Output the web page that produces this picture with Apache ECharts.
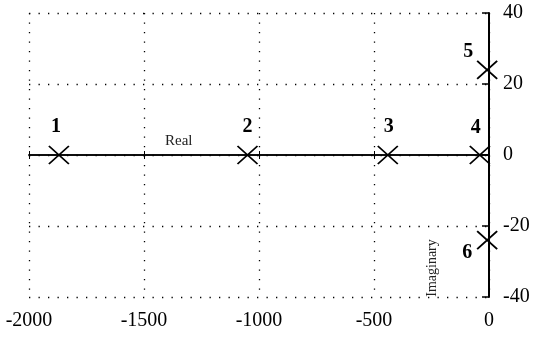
<!DOCTYPE html>
<html>
<head>
<meta charset="utf-8">
<script src="https://cdn.jsdelivr.net/npm/echarts@6/dist/echarts.min.js"></script>
<style>
html,body{margin:0;padding:0;background:#fff;}
#chart{width:544px;height:339px;}
</style>
</head>
<body>
<div id="chart"></div>
<script>
// Data
var pointNames = ['1', '2', '3', '4', '5', '6'];
var realParts = [-1870, -1050, -440, -40, -8, -8];
var imagParts = [0, 0, 0, 0, 24, -24];
var xTicks = [-2000, -1500, -1000, -500, 0];
var yTicks = [-40, -20, 0, 20, 40];
var xAxisTitle = 'Real';
var yAxisTitle = 'Imaginary';

var FONT = '"Liberation Serif", "Times New Roman", serif';
var chart = echarts.init(document.getElementById('chart'), null, {renderer: 'canvas'});

var labelOffsets = [[-3, -28], [0, -28], [1, -28], [-4, -27], [-19, -18], [-20, 13]];
var seriesData = pointNames.map(function (n, i) {
  return {
    name: n,
    value: [realParts[i], imagParts[i]],
    label: {offset: labelOffsets[i]}
  };
});

var dotted = {color: '#000', width: 1.3, type: [1.3, 8.2]};
var xMin = xTicks[0], xMax = xTicks[xTicks.length - 1];
var yMin = yTicks[0], yMax = yTicks[yTicks.length - 1];
var plain = function (v) { return String(v); };
var gridRect = {left: 29, right: 55, top: 13, bottom: 42};

var option = {
  backgroundColor: '#fff',
  animation: false,
  grid: [gridRect, gridRect],
  xAxis: [
    {
      gridIndex: 0, type: 'value', min: xMin, max: xMax, interval: 500, position: 'bottom',
      axisLine: {show: false, onZero: false}, axisTick: {show: false},
      axisLabel: {fontFamily: FONT, fontSize: 20, color: '#000', margin: 14, formatter: plain},
      splitLine: {show: true, lineStyle: dotted}
    },
    {
      gridIndex: 0, type: 'value', min: xMin, max: xMax, interval: 500, position: 'top',
      axisLine: {show: true, onZero: true, lineStyle: {color: '#000', width: 1.6}},
      axisTick: {show: true, length: 4, lineStyle: {color: '#000', width: 1}},
      axisLabel: {show: false}, splitLine: {show: false}
    },
    {
      gridIndex: 1, type: 'value', min: xMin, max: xMax, interval: 500, position: 'bottom',
      axisLine: {show: true, onZero: true, lineStyle: {color: '#000', width: 1.6}},
      axisTick: {show: true, length: 4, lineStyle: {color: '#000', width: 1}},
      axisLabel: {show: false}, splitLine: {show: false}
    }
  ],
  yAxis: [
    {
      gridIndex: 0, type: 'value', min: yMin, max: yMax, interval: 20, position: 'right',
      axisLine: {show: true, onZero: false, lineStyle: {color: '#000', width: 2}},
      axisTick: {show: true, inside: true, length: 7, lineStyle: {color: '#000', width: 1.5}},
      axisLabel: {fontFamily: FONT, fontSize: 20, color: '#000', margin: 14, formatter: plain},
      splitLine: {show: true, lineStyle: dotted}
    },
    {
      gridIndex: 1, type: 'value', min: yMin, max: yMax, interval: 20, position: 'right',
      axisLine: {show: false, onZero: false}, axisTick: {show: false},
      axisLabel: {show: false}, splitLine: {show: false}
    }
  ],
  graphic: [
    {
      type: 'text', left: 165, top: 134,
      style: {text: xAxisTitle, font: '15px ' + FONT, fill: '#222'}
    },
    {
      type: 'text', x: 432, y: 268, rotation: Math.PI / 2,
      style: {text: yAxisTitle, font: '14px ' + FONT, fill: '#222', align: 'center', verticalAlign: 'middle'}
    }
  ],
  series: [{
    type: 'scatter',
    xAxisIndex: 0,
    yAxisIndex: 0,
    data: seriesData,
    symbol: 'path://M0,0L10,10M10,0L0,10',
    symbolSize: [20, 18],
    itemStyle: {color: 'none', borderColor: '#000', borderWidth: 1.8, opacity: 1},
    label: {
      show: true, position: 'inside',
      formatter: function (p) { return p.name; },
      fontFamily: FONT, fontSize: 20, fontWeight: 'bold', color: '#000'
    },
    z: 5
  }]
};
chart.setOption(option);
</script>
</body>
</html>
